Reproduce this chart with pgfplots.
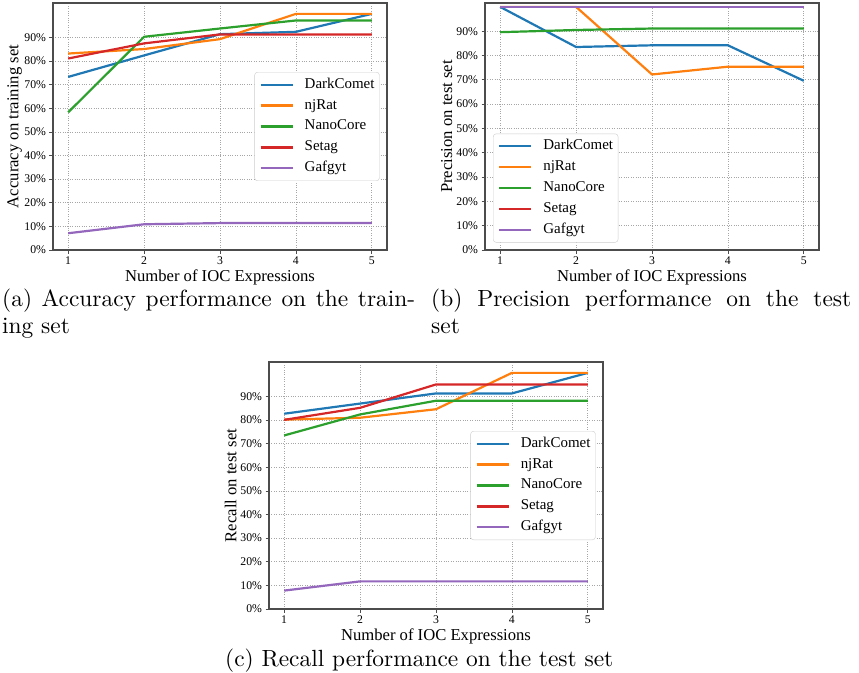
\documentclass[border=0pt]{standalone}
\usepackage{pgfplots}
\pgfplotsset{compat=1.18}
\usepackage{fontspec}
\usepackage{graphicx}
\newfontfamily\tnr{Liberation Serif}
\definecolor{cA}{HTML}{1F77B4}
\definecolor{cB}{HTML}{FF7F0E}
\definecolor{cC}{HTML}{2CA02C}
\definecolor{cD}{HTML}{D62728}
\definecolor{cE}{HTML}{9467BD}
\tikzset{ln/.style={line width=2.2bp, line join=round, line cap=butt}}
\pgfplotsset{
  mystyle/.style={
    scale only axis, width=334bp, height=247bp,
    xmin=0.8, xmax=5.2, ymin=0,
    xtick={1,2,3,4,5}, xticklabels={1,2,3,4,5},
    ytick={0,10,...,90},
    yticklabels={0\%,10\%,20\%,30\%,40\%,50\%,60\%,70\%,80\%,90\%},
    tick label style={font=\tnr\fontsize{11.8}{13}\selectfont},
    label style={font=\tnr\fontsize{16.7}{19}\selectfont},
    grid=major,
    major grid style={dotted, line width=0.8bp, color=black!35},
    axis line style={black!70, line width=1.1bp},
    tick align=outside, major tick length=3.5bp,
    tick style={black!70, line width=0.8bp},
    xtick pos=bottom, ytick pos=left,
    legend cell align=left,
    legend image code/.code={\draw[##1, line width=2.2bp] (0pt,0pt) -- (32bp,0pt);},
    legend style={font=\tnr\fontsize{15}{17}\selectfont, draw=black!20,
      rounded corners=3pt, fill=white,
      inner xsep=5pt, inner ysep=5pt, row sep=6pt, column sep=11pt,
      nodes={inner sep=0pt, text height=11pt, text depth=4pt}},
    xlabel={Number of IOC Expressions},
    xlabel style={at={(axis description cs:0.5,0)}, anchor=base, yshift=-31bp},
    ylabel style={at={(axis description cs:-0.115,0.5)}, anchor=center},
  }
}
\begin{document}
\begin{tikzpicture}
\path[use as bounding box] (0,0) rectangle (859bp,-673bp);
% (a)
\begin{axis}[mystyle, at={(53bp,-250bp)}, anchor=south west, ymax=104.6,
  ylabel={Accuracy on training set},
  legend style={at={(0.978,0.5)}, anchor=east}]
\addplot[cA, ln] coordinates {(1,73.3) (2,82.4) (3,91.4) (4,92.4) (5,100)};
\addlegendentry{DarkComet}
\addplot[cB, ln] coordinates {(1,83.2) (2,85.1) (3,89.3) (4,100) (5,100)};
\addlegendentry{njRat}
\addplot[cC, ln] coordinates {(1,58.3) (2,90.3) (3,93.8) (4,97.2) (5,97.2)};
\addlegendentry{NanoCore}
\addplot[cD, ln] coordinates {(1,81.1) (2,87.5) (3,91.3) (4,91.3) (5,91.3)};
\addlegendentry{Setag}
\addplot[cE, ln] coordinates {(1,7.1) (2,10.9) (3,11.4) (4,11.4) (5,11.4)};
\addlegendentry{Gafgyt}
\end{axis}
% (b)
\begin{axis}[mystyle, at={(485bp,-250bp)}, anchor=south west, ymax=101.6,
  ylabel={Precision on test set},
  legend style={at={(0.024,0.03)}, anchor=south west}]
\addplot[cA, ln] coordinates {(1,100) (2,83.5) (3,84.2) (4,84.2) (5,69.6)};
\addlegendentry{DarkComet}
\addplot[cB, ln] coordinates {(1,100) (2,100) (3,72.2) (4,75.4) (5,75.4)};
\addlegendentry{njRat}
\addplot[cC, ln] coordinates {(1,89.6) (2,90.5) (3,91.1) (4,91.1) (5,91.1)};
\addlegendentry{NanoCore}
\addplot[cD, ln] coordinates {(1,100) (2,100) (3,100) (4,100) (5,100)};
\addlegendentry{Setag}
\addplot[cE, ln] coordinates {(1,100) (2,100) (3,100) (4,100) (5,100)};
\addlegendentry{Gafgyt}
\end{axis}
% (c)
\begin{axis}[mystyle, at={(269bp,-609bp)}, anchor=south west, ymax=104.6,
  ylabel={Recall on test set},
  legend style={at={(0.978,0.5)}, anchor=east}]
\addplot[cA, ln] coordinates {(1,82.7) (2,87.0) (3,91.3) (4,91.3) (5,100)};
\addlegendentry{DarkComet}
\addplot[cB, ln] coordinates {(1,80.2) (2,81.0) (3,84.6) (4,100) (5,100)};
\addlegendentry{njRat}
\addplot[cC, ln] coordinates {(1,73.5) (2,82.4) (3,88.2) (4,88.2) (5,88.2)};
\addlegendentry{NanoCore}
\addplot[cD, ln] coordinates {(1,80.1) (2,85.2) (3,95.1) (4,95.1) (5,95.1)};
\addlegendentry{Setag}
\addplot[cE, ln] coordinates {(1,7.8) (2,11.7) (3,11.7) (4,11.7) (5,11.7)};
\addlegendentry{Gafgyt}
\end{axis}
% captions
\node[anchor=base west, inner sep=0pt] at (2bp,-306.7bp) {\scalebox{2.349}{\fontsize{10}{12}\selectfont\makebox[176.5pt][s]{(a) Accuracy performance on the train-}}};
\node[anchor=base west, inner sep=0pt] at (2bp,-333bp) {\scalebox{2.349}{\fontsize{10}{12}\selectfont ing set}};
\node[anchor=base west, inner sep=0pt] at (431bp,-306.7bp) {\scalebox{2.349}{\fontsize{10}{12}\selectfont\makebox[179.5pt][s]{(b) Precision performance on the test}}};
\node[anchor=base west, inner sep=0pt] at (431bp,-333bp) {\scalebox{2.349}{\fontsize{10}{12}\selectfont set}};
\node[anchor=base west, inner sep=0pt] at (225bp,-666bp) {\scalebox{2.349}{\fontsize{10}{12}\selectfont (c) Recall performance on the test set}};
\end{tikzpicture}
\end{document}
